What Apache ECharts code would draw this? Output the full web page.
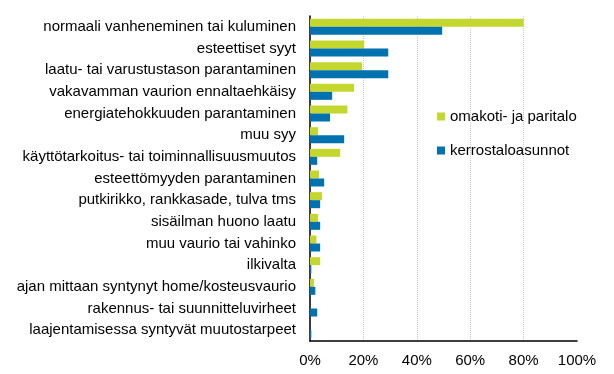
<!DOCTYPE html>
<html><head><meta charset="utf-8">
<script src="https://cdn.jsdelivr.net/npm/echarts@6/dist/echarts.min.js"></script>
<style>html,body{margin:0;padding:0;background:#fff}#c{width:614px;height:374px}</style>
</head><body><div id="c"></div>
<script>
const categories = [
  "normaali vanheneminen tai kuluminen",
  "esteettiset syyt",
  "laatu- tai varustustason parantaminen",
  "vakavamman vaurion ennaltaehkäisy",
  "energiatehokkuuden parantaminen",
  "muu syy",
  "käyttötarkoitus- tai toiminnallisuusmuutos",
  "esteettömyyden parantaminen",
  "putkirikko, rankkasade, tulva tms",
  "sisäilman huono laatu",
  "muu vaurio tai vahinko",
  "ilkivalta",
  "ajan mittaan syntynyt home/kosteusvaurio",
  "rakennus- tai suunnitteluvirheet",
  "laajentamisessa syntyvät muutostarpeet"
];
const omakoti = [80, 20.3, 19.5, 16.5, 14, 3, 11.3, 3.4, 4.5, 3, 2.4, 3.8, 1.5, 0, 0];
const kerrostalo = [49.5, 29.3, 29.3, 8.3, 7.5, 12.8, 2.7, 5.3, 3.8, 3.8, 3.8, 0.5, 2, 2.7, 0.5];
const xTicks = [0, 20, 40, 60, 80, 100];
const seriesNames = ["omakoti- ja paritalo", "kerrostaloasunnot"];

const font = "'Liberation Sans', Arial, sans-serif";
const chart = echarts.init(document.getElementById('c'), null, {renderer: 'canvas'});
chart.setOption({
  animation: false,
  textStyle: {fontFamily: font},
  grid: {left: 310, right: 37, top: 16, bottom: 33, containLabel: false},
  legend: {
    orient: 'vertical', left: 432, top: 104, itemGap: 19,
    itemWidth: 8, itemHeight: 8, icon: 'rect',
    textStyle: {fontSize: 15, color: '#000', fontFamily: font},
    data: seriesNames
  },
  xAxis: {
    type: 'value', min: xTicks[0], max: xTicks[xTicks.length-1], interval: 20,
    axisLine: {show: true, lineStyle: {color: '#000', width: 1.5}},
    axisTick: {show: false},
    axisLabel: {formatter: v => v + '%', fontSize: 15, color: '#000', fontFamily: font, margin: 12},
    splitLine: {show: true, lineStyle: {color: '#c8c8c8', type: 'dotted'}, showMaxLine: false}
  },
  yAxis: {
    type: 'category', data: categories, inverse: true,
    axisLine: {show: true, lineStyle: {color: '#000', width: 1.5}},
    axisTick: {show: false},
    axisLabel: {fontSize: 15, color: '#000', fontFamily: font, margin: 14}
  },
  series: [
    {name: seriesNames[0], type: 'bar', data: omakoti, barWidth: 8, barGap: '0%', itemStyle: {color: '#c3d72e'}},
    {name: seriesNames[1], type: 'bar', data: kerrostalo, barWidth: 8, barGap: '0%', itemStyle: {color: '#0072b0'}}
  ]
});
</script></body></html>
